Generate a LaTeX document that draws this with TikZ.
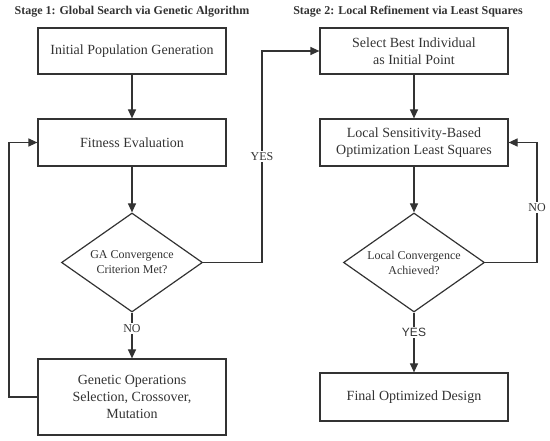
\documentclass[tikz,border=0pt]{standalone}
\usepackage{fontspec}
\setmainfont{Liberation Serif}
\newfontfamily\labelsans{Liberation Sans}
\usetikzlibrary{shapes.geometric, arrows.meta}
\definecolor{ink}{HTML}{333333}
\tikzset{
  stagebox/.style={draw=ink, line width=1.2pt, text=ink, minimum width=188pt, inner sep=0pt, align=center, font=\fontsize{14}{17}\selectfont},
  decision/.style={draw=ink, line width=1.2pt, text=ink, diamond, aspect=1.42, minimum width=141pt, minimum height=99pt, inner sep=0pt, align=center, font=\fontsize{12}{15}\selectfont},
  flow/.style={draw=ink, line width=1.2pt, -{Triangle[length=9pt, width=8pt]}},
  answer/.style={fill=white, text=ink, inner sep=1.5pt, font=\fontsize{12}{14}\selectfont},
  stagetitle/.style={text=ink, font=\bfseries\fontsize{12}{14}\selectfont}
}
\begin{document}
\begin{tikzpicture}[x=1pt, y=-1pt]
  \useasboundingbox (0,0) rectangle (550,441);
  % titles
  \node[stagetitle] (title1) at (132,12) {Stage 1: Global Search via Genetic Algorithm};
  \node[stagetitle] (title2) at (408,12) {Stage 2: Local Refinement via Least Squares};
  % stage 1
  \node[stagebox, minimum height=46pt] (init) at (132,51) {Initial Population Generation};
  \node[stagebox, minimum height=47pt] (fit) at (132,142.5) {Fitness Evaluation};
  \node[decision] (gaconv) at (132,262.5) {GA Convergence\\Criterion Met?};
  \node[stagebox, minimum height=76pt] (genop) at (132,397) {Genetic Operations\\Selection, Crossover,\\Mutation};
  % stage 2
  \node[stagebox, minimum height=46pt] (best) at (414,51) {Select Best Individual\\as Initial Point};
  \node[stagebox, minimum height=47pt] (lsq) at (414,142.5) {Local Sensitivity-Based\\Optimization Least Squares};
  \node[decision] (locconv) at (414,262.5) {Local Convergence\\Achieved?};
  \node[stagebox, minimum height=48pt] (final) at (414,397) {Final Optimized Design};
  % connectors
  \coordinate (yesx) at (262,262.5);
  \coordinate (loopl) at (9,397);
  \coordinate (loopr) at (537,262.5);
  \draw[flow] (init) -- (fit);
  \draw[flow] (fit) -- (gaconv);
  \draw[flow] (gaconv) -- node[answer, pos=0.35] {NO} (genop);
  \draw[flow] (genop.west) -- (loopl) |- (fit.west);
  \draw[flow] (gaconv.east) -- (yesx) -- node[answer, pos=0.5] {YES} (yesx |- best.west) -- (best.west);
  \draw[flow] (best) -- (lsq);
  \draw[flow] (lsq) -- (locconv);
  \draw[flow] (locconv) -- node[answer, pos=0.33, font=\labelsans\fontsize{12}{14}\selectfont] {YES} (final);
  \draw[flow] (locconv.east) -- (loopr) -- node[answer, pos=0.46] {NO} (loopr |- lsq.east) -- (lsq.east);
\end{tikzpicture}
\end{document}
